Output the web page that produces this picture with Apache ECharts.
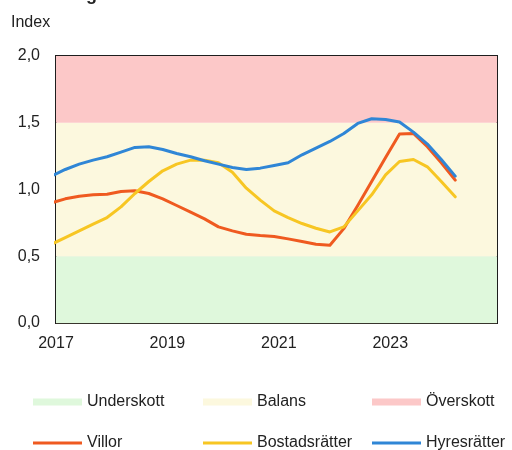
<!DOCTYPE html>
<html>
<head>
<meta charset="utf-8">
<script src="https://cdn.jsdelivr.net/npm/echarts@6/dist/echarts.min.js"></script>
<style>
  html, body { margin: 0; padding: 0; background: #ffffff; }
  #chart { width: 512px; height: 450px; }
</style>
</head>
<body>
<div id="chart"></div>
<script>
// Quarterly observations (year-month of each quarter's last month)
const quarters = [
  '2016-12', '2017-03', '2017-06', '2017-09', '2017-12',
  '2018-03', '2018-06', '2018-09', '2018-12',
  '2019-03', '2019-06', '2019-09', '2019-12',
  '2020-03', '2020-06', '2020-09', '2020-12',
  '2021-03', '2021-06', '2021-09', '2021-12',
  '2022-03', '2022-06', '2022-09', '2022-12',
  '2023-03', '2023-06', '2023-09', '2023-12',
  '2024-03'
];

const villor = [
  0.90, 0.93, 0.95, 0.96, 0.965, 0.985, 0.99, 0.97, 0.93, 0.88,
  0.83, 0.78, 0.72, 0.69, 0.665, 0.655, 0.648, 0.63, 0.61, 0.59,
  0.582, 0.707, 0.88, 1.06, 1.24, 1.415, 1.42, 1.32, 1.20, 1.07
];

const bostadsratter = [
  0.59, 0.64, 0.69, 0.74, 0.79, 0.87, 0.97, 1.06, 1.14, 1.19,
  1.22, 1.22, 1.20, 1.13, 1.01, 0.92, 0.84, 0.79, 0.745, 0.71,
  0.682, 0.72, 0.84, 0.96, 1.11, 1.21, 1.225, 1.17, 1.06, 0.945
];

const hyresratter = [
  1.10, 1.15, 1.19, 1.22, 1.245, 1.28, 1.315, 1.32, 1.30, 1.27,
  1.245, 1.215, 1.19, 1.165, 1.15, 1.16, 1.18, 1.20, 1.26, 1.31,
  1.36, 1.42, 1.495, 1.53, 1.525, 1.505, 1.43, 1.34, 1.225, 1.10
];

// Balance zones on the index scale
const zoneNames = ['Underskott', 'Balans', 'Överskott'];
const zoneBounds = [[0, 0.5], [0.5, 1.5], [1.5, 2.0]];
const zoneColors = ['#dff8dc', '#fcf8de', '#fcc8c8'];

const seriesNames = ['Villor', 'Bostadsrätter', 'Hyresrätter'];
const seriesColors = ['#ef5a20', '#f7c623', '#2f86d6'];

const yTicks = [0, 0.5, 1.0, 1.5, 2.0];
const xTickYears = [2017, 2019, 2021, 2023];

const FONT = '"Liberation Sans", Arial, sans-serif';

function toYear(s) {
  const [y, m] = s.split('-').map(Number);
  return y + (m - 1) / 12;
}
const xs = quarters.map(toYear);
const pairs = vals => vals.map((v, i) => [xs[i], v]);

const zoneSeries = zoneNames.map((name, i) => ({
  name: name,
  type: 'line',
  data: [],
  color: zoneColors[i],
  silent: true,
  markArea: {
    silent: true,
    itemStyle: { color: zoneColors[i] },
    data: [[{ yAxis: zoneBounds[i][0] }, { yAxis: zoneBounds[i][1] }]]
  }
}));

const lineData = [villor, bostadsratter, hyresratter];
const lineSeries = seriesNames.map((name, i) => ({
  name: name,
  type: 'line',
  data: pairs(lineData[i]),
  color: seriesColors[i],
  symbol: 'none',
  smooth: false,
  clip: true,
  z: 3 + i,
  lineStyle: { width: 3, color: seriesColors[i], join: 'round', cap: 'round' }
}));

// one legend entry per slot so the columns line up
const legendCols = [33, 203, 372];
const legendText = { fontSize: 16, color: '#222', fontFamily: FONT };
const legends = [];
zoneNames.forEach((n, i) => legends.push({
  data: [n], left: legendCols[i], top: 394, padding: 0,
  icon: 'rect', itemWidth: 49, itemHeight: 7,
  textStyle: legendText, selectedMode: false
}));
seriesNames.forEach((n, i) => legends.push({
  data: [n], left: legendCols[i], top: 435, padding: 0,
  icon: 'rect', itemWidth: 49, itemHeight: 3,
  textStyle: legendText, selectedMode: false
}));

const chart = echarts.init(document.getElementById('chart'), null, { renderer: 'canvas' });
chart.setOption({
  animation: false,
  backgroundColor: '#ffffff',
  textStyle: { fontFamily: FONT },
  grid: {
    left: 56, right: 15, top: 56, bottom: 127,
    show: true, borderColor: '#1e1e1e', borderWidth: 2, backgroundColor: 'transparent'
  },
  graphic: [
    { type: 'text', left: 42, top: -14,
      style: { text: 'Sverige', font: 'bold 18px ' + FONT, fill: '#222' } },
    { type: 'text', left: 11, top: 15,
      style: { text: 'Index', font: '16px ' + FONT, fill: '#222' } }
  ],
  legend: legends,
  xAxis: {
    type: 'value',
    min: xTickYears[0],
    max: 2024 + 11 / 12,
    interval: 2,
    axisLine: { show: false },
    axisTick: { show: false },
    splitLine: { show: false },
    axisLabel: {
      fontSize: 16, color: '#222', margin: 13, showMaxLabel: false,
      formatter: v => xTickYears.includes(v) ? String(v) : ''
    }
  },
  yAxis: {
    type: 'value',
    min: yTicks[0],
    max: yTicks[yTicks.length - 1],
    interval: 0.5,
    axisLine: { show: false },
    axisTick: { show: false },
    splitLine: { show: true, lineStyle: { color: 'rgba(180,160,110,0.18)', width: 1 } },
    axisLabel: {
      fontSize: 16, color: '#222', margin: 16,
      formatter: v => v.toFixed(1).replace('.', ',')
    }
  },
  series: zoneSeries.concat(lineSeries)
});
</script>
</body>
</html>
